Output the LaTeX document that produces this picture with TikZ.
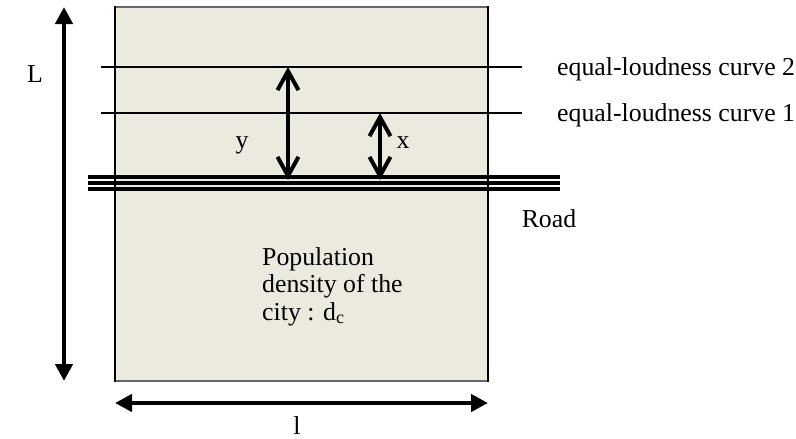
\documentclass[tikz,border=0pt]{standalone}
\usepackage{fontspec}
\setmainfont{Liberation Serif}
\usetikzlibrary{arrows.meta}
\definecolor{citybg}{RGB}{236,233,223}
\tikzset{
  lbl/.style={inner sep=0pt, font=\fontsize{25.8}{27.5}\selectfont},
  thinline/.style={line width=1.4pt, black},
  roadline/.style={line width=4pt, black},
  dimarrow/.style={line width=4.5pt, {Triangle[length=17pt,width=17pt]}-{Triangle[length=17pt,width=17pt]}},
  gaparrow/.style={line width=4pt, {Straight Barb[length=19pt,width=21pt]}-{Straight Barb[length=19pt,width=21pt]}}
}
\begin{document}
\begin{tikzpicture}[x=1pt,y=-1pt]
\useasboundingbox (0,0) rectangle (796,439);
% city box
\fill[citybg] (115,7) rectangle (488,381);
\draw[line width=2pt, black!60] (115,7) -- (488,7);
\draw[line width=2pt, black!60] (115,381) -- (488,381);
\draw[line width=1.6pt] (115,6) -- (115,382);
\draw[line width=1.6pt] (488,6) -- (488,382);
% equal-loudness lines
\coordinate (c2a) at (101,67);
\coordinate (c2b) at (522,67);
\coordinate (c1a) at (101,113);
\coordinate (c1b) at (522,113);
\draw[thinline] (c2a) -- (c2b);
\draw[thinline] (c1a) -- (c1b);
\node[lbl, anchor=base west] (lc2) at (557,75) {equal-loudness curve 2};
\node[lbl, anchor=base west] (lc1) at (557,121) {equal-loudness curve 1};
% road
\coordinate (r1a) at (88,177);
\coordinate (r1b) at (560,177);
\coordinate (r2a) at (88,183);
\coordinate (r2b) at (560,183);
\coordinate (r3a) at (88,189);
\coordinate (r3b) at (560,189);
\draw[roadline] (r1a) -- (r1b);
\draw[roadline] (r2a) -- (r2b);
\draw[roadline] (r3a) -- (r3b);
\node[lbl, anchor=base] (road) at (549,227) {Road};
% y and x arrows
\coordinate (ytop) at (288,67);
\coordinate (ybot) at (288,180);
\coordinate (xtop) at (380,113);
\coordinate (xbot) at (380,180);
\draw[gaparrow] (ybot) -- (ytop);
\draw[gaparrow] (xbot) -- (xtop);
\node[lbl, anchor=base] (ylab) at (242,148) {y};
\node[lbl, anchor=base] (xlab) at (403,148) {x};
% population text
\node[lbl, anchor=base west, align=left] (pop) at (262,320) {Population\\density of the\\city : d\textsubscript{c}};
% dimension arrows
\coordinate (Ltop) at (64,7);
\coordinate (Lbot) at (64,381);
\draw[dimarrow] (Lbot) -- (Ltop);
\node[lbl, anchor=base] (Llab) at (35,82) {L};
\coordinate (lleft) at (115,403);
\coordinate (lright) at (488,403);
\draw[dimarrow] (lleft) -- (lright);
\node[lbl, anchor=base] (llab) at (297,434) {l};
\end{tikzpicture}
\end{document}
